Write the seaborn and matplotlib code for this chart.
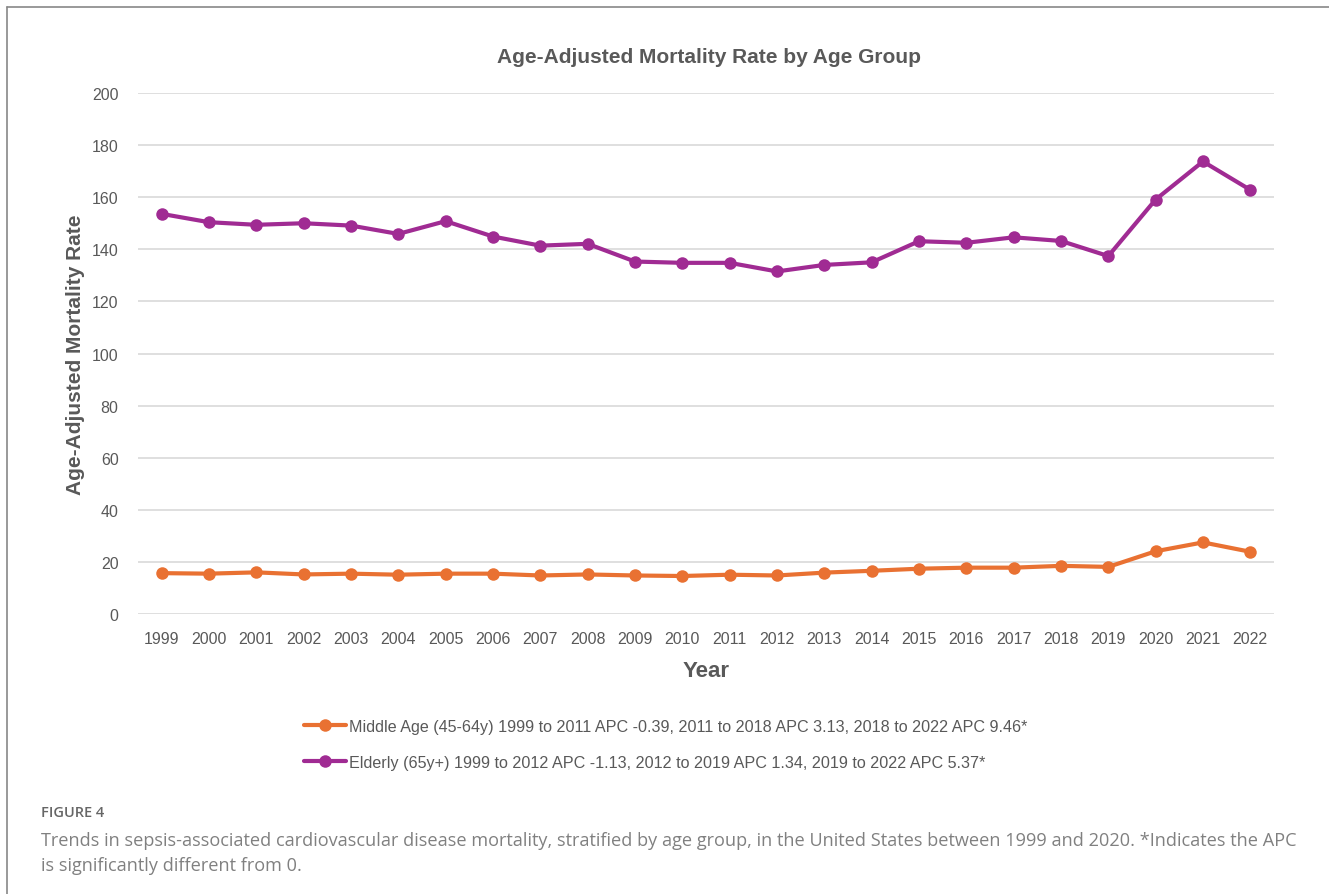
import matplotlib
matplotlib.use("Agg")
import matplotlib.pyplot as plt
from matplotlib.lines import Line2D
import seaborn as sns
import pandas as pd

years = list(range(1999, 2023))

middle_age = [15.7, 15.5, 16.0, 15.2, 15.5, 15.1, 15.5, 15.5, 14.8, 15.2, 14.8, 14.6,
              15.1, 14.8, 15.9, 16.6, 17.4, 17.8, 17.8, 18.5, 18.1, 24.1, 27.5, 23.9]
elderly = [153.6, 150.4, 149.4, 150.0, 149.1, 145.9, 150.8, 144.9, 141.4, 142.1, 135.3, 134.8,
           134.8, 131.5, 134.0, 135.0, 143.1, 142.5, 144.6, 143.2, 137.4, 159.1, 173.7, 162.8]

series_labels = [
    "Middle Age (45-64y) 1999 to 2011 APC -0.39, 2011 to 2018 APC 3.13, 2018 to 2022 APC 9.46*",
    "Elderly (65y+) 1999 to 2012 APC -1.13, 2012 to 2019 APC 1.34, 2019 to 2022 APC 5.37*",
]
series_colors = ["#E97132", "#A02B93"]

y_ticks = list(range(0, 201, 20))

title_text = "Age-Adjusted Mortality Rate by Age Group"
x_label = "Year"
y_label = "Age-Adjusted Mortality Rate"
fig_tag = "FIGURE 4"
caption_lines = [
    "Trends in sepsis-associated cardiovascular disease mortality, stratified by age group, in the United States between 1999 and 2020. *Indicates the APC",
    "is significantly different from 0.",
]

df = pd.concat([
    pd.DataFrame({"Year": years, "Rate": middle_age, "Group": series_labels[0]}),
    pd.DataFrame({"Year": years, "Rate": elderly, "Group": series_labels[1]}),
])

sns.set_theme(style="white")
plt.rcParams["font.family"] = ["Liberation Sans", "DejaVu Sans"]
sans = ["Liberation Sans", "DejaVu Sans"]
caption_font = ["Open Sans", "DejaVu Sans"]

fig = plt.figure(figsize=(13.29, 8.95), dpi=100)
ax = fig.add_axes([0.1038, 0.3128, 0.8548, 0.5822])

sns.lineplot(data=df, x="Year", y="Rate", hue="Group", hue_order=series_labels,
             palette=series_colors, marker="o", markersize=9, markeredgewidth=0,
             linewidth=3, ax=ax, legend=False)

ax.set_xlim(1998.5, 2022.5)
ax.set_ylim(0, 200)
ax.set_xticks(years)
ax.set_xticklabels([str(y) for y in years])
ax.set_yticks(y_ticks)
ax.grid(axis="y", color="#D9D9D9", linewidth=1.2)
ax.set_axisbelow(True)
for s in ax.spines.values():
    s.set_visible(False)
ax.tick_params(axis="both", length=0, labelsize=11.5, colors="#595959", pad=12)
ax.tick_params(axis="y", pad=14)

ax.set_xlabel(x_label, fontsize=16, fontweight="bold", color="#595959",
              family=sans, labelpad=10)
ax.set_ylabel(y_label, fontsize=15, fontweight="bold", color="#595959",
              family=sans, labelpad=5)
fig.text(0.5335, 0.936, title_text, ha="center", va="center", fontsize=15,
         fontweight="bold", color="#595959", family=sans)

handles = [Line2D([0], [0], color=c, linewidth=3, marker="o", markersize=9,
                  markeredgewidth=0) for c in series_colors]
fig.legend(handles, series_labels, loc="upper center", bbox_to_anchor=(0.501, 0.212),
           frameon=False, ncol=1, handlelength=2.6, handletextpad=0.15,
           labelspacing=1.3, prop={"family": sans, "size": 11.6},
           labelcolor="#595959")

fig.text(41 / 1329, 1 - 813 / 895, fig_tag, ha="left", va="center", fontsize=10.5,
         fontweight="semibold", color="#666666", family=caption_font)
for i, line in enumerate(caption_lines):
    fig.text(41 / 1329, 1 - (841 + 25 * i) / 895, line, ha="left", va="center",
             fontsize=13.05, color="#808080", family=caption_font)

# thin frame along the top and left edges
fig.add_artist(Line2D([7 / 1329, 1], [1 - 8 / 895, 1 - 8 / 895], color="#888888",
                      linewidth=1.2, transform=fig.transFigure))
fig.add_artist(Line2D([7 / 1329, 7 / 1329], [0, 1 - 8 / 895], color="#888888",
                      linewidth=1.2, transform=fig.transFigure))

fig.savefig("out.png", dpi=100, facecolor="white")
